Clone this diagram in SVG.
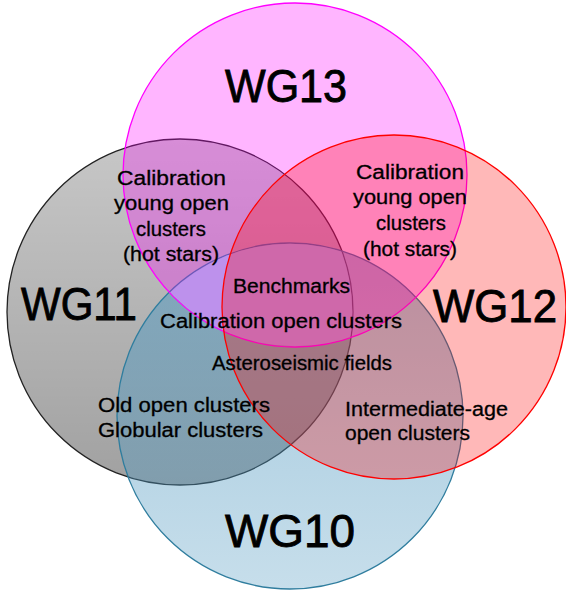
<svg xmlns="http://www.w3.org/2000/svg" width="566" height="592" viewBox="0 0 566 592">
<style>
.lbl{font-family:"Liberation Sans",Arial,sans-serif;fill:#000;stroke:#000;}
.big{font-size:47px;stroke-width:0.9px;}
.sm{font-size:20px;stroke-width:0.3px;}
</style>
<defs>
<linearGradient id="gGray" x1="0" y1="0" x2="0" y2="1">
<stop offset="0" stop-color="#000" stop-opacity="0.22"/>
<stop offset="1" stop-color="#000" stop-opacity="0.37"/>
</linearGradient>
<linearGradient id="gBlue" x1="0" y1="0" x2="0" y2="1">
<stop offset="0" stop-color="#4f98c0" stop-opacity="0.55"/>
<stop offset="1" stop-color="#4f98c0" stop-opacity="0.32"/>
</linearGradient>
<clipPath id="cGray"><circle cx="180" cy="312" r="172.3"/></clipPath>
<clipPath id="cMag"><circle cx="295" cy="175" r="171.3"/></clipPath>
<clipPath id="cBlue"><circle cx="290" cy="416" r="172.3"/></clipPath>
</defs>
<rect width="566" height="592" fill="#fff"/>
<g id="wg11">
<circle cx="180" cy="312" r="173" fill="url(#gGray)" stroke="#222" stroke-width="1.3"/>
</g>
<g id="wg10">
<circle cx="290" cy="416" r="173" fill="url(#gBlue)" stroke="#2f7d9e" stroke-width="1.3"/>
</g>
<g id="wg13">
<circle cx="295" cy="175" r="172" fill="#ff00ff" fill-opacity="0.29" stroke="#ff00ff" stroke-width="1.3"/>
</g>
<g id="overlap-11-10-13" clip-path="url(#cGray)">
<g clip-path="url(#cMag)">
<g clip-path="url(#cBlue)">
<rect x="0" y="0" width="566" height="592" fill="#bd91ec"/>
</g>
</g>
</g>
<g id="wg12">
<circle cx="394" cy="307" r="172" fill="#ff0000" fill-opacity="0.28" stroke="#ff0000" stroke-width="1.3"/>
</g>
<g id="labels" class="lbl">
<text class="big" x="225" y="102" textLength="122" lengthAdjust="spacingAndGlyphs">WG13</text>
<text class="big" x="21" y="320" textLength="116" lengthAdjust="spacingAndGlyphs">WG11</text>
<text class="big" x="433" y="322" textLength="124" lengthAdjust="spacingAndGlyphs">WG12</text>
<text class="big" x="225" y="547" textLength="130" lengthAdjust="spacingAndGlyphs">WG10</text>

<text class="sm" x="117" y="185" textLength="109" lengthAdjust="spacingAndGlyphs">Calibration</text>
<text class="sm" x="114" y="210" textLength="115" lengthAdjust="spacingAndGlyphs">young open</text>
<text class="sm" x="136" y="236" textLength="70" lengthAdjust="spacingAndGlyphs">clusters</text>
<text class="sm" x="123" y="261" textLength="96" lengthAdjust="spacingAndGlyphs">(hot stars)</text>

<text class="sm" x="356" y="179" textLength="108" lengthAdjust="spacingAndGlyphs">Calibration</text>
<text class="sm" x="353" y="204" textLength="114" lengthAdjust="spacingAndGlyphs">young open</text>
<text class="sm" x="376" y="230" textLength="70" lengthAdjust="spacingAndGlyphs">clusters</text>
<text class="sm" x="363" y="256" textLength="94" lengthAdjust="spacingAndGlyphs">(hot stars)</text>

<text class="sm" x="233" y="293" textLength="117" lengthAdjust="spacingAndGlyphs">Benchmarks</text>
<text class="sm" x="160" y="328" textLength="242" lengthAdjust="spacingAndGlyphs">Calibration open clusters</text>
<text class="sm" x="212" y="370" textLength="180" lengthAdjust="spacingAndGlyphs">Asteroseismic fields</text>

<text class="sm" x="98" y="412" textLength="172" lengthAdjust="spacingAndGlyphs">Old open clusters</text>
<text class="sm" x="98" y="437" textLength="165" lengthAdjust="spacingAndGlyphs">Globular clusters</text>

<text class="sm" x="345" y="416" textLength="163" lengthAdjust="spacingAndGlyphs">Intermediate-age</text>
<text class="sm" x="345" y="440" textLength="125" lengthAdjust="spacingAndGlyphs">open clusters</text>
</g>
</svg>
